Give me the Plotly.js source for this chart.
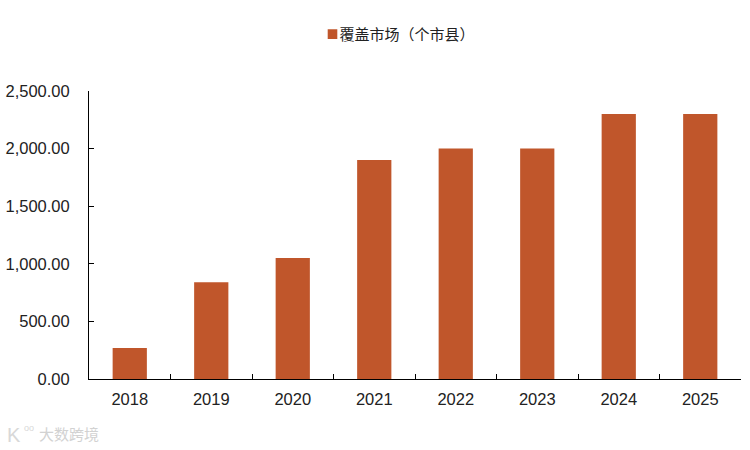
<!DOCTYPE html>
<html><head><meta charset="utf-8">
<script src="https://cdn.plot.ly/plotly-3.0.1.min.js"></script>
<style>html,body{margin:0;padding:0;background:#fff}</style></head>
<body><div id="chart" style="width:750px;height:450px"></div>
<script>
const years = ['2018','2019','2020','2021','2022','2023','2024','2025'];
const coverage = [270,840,1050,1900,2000,2000,2300,2300];
const seriesName = '覆盖市场（个市县）';
const watermark = '大数跨境';
const font = '"Liberation Sans","Noto Sans CJK SC",Arial,sans-serif';
Plotly.newPlot('chart',[{
  type:'bar',x:years,y:coverage,name:seriesName,showlegend:true,
  marker:{color:'#C0562B',line:{width:0}}
}],{
  width:750,height:450,
  margin:{l:89,r:9,t:91,b:71},
  paper_bgcolor:'#fff',plot_bgcolor:'#fff',
  font:{family:font,color:'#222',size:16.5},
  bargap:0.58,
  showlegend:true,
  legend:{orientation:'h',x:(312.5-89)/652,xanchor:'left',y:1.254,yanchor:'top',font:{size:15,color:'#222'},itemwidth:30},
  xaxis:{type:'category',tickson:'boundaries',ticks:'inside',ticklen:5,tickcolor:'#000',tickwidth:1,
    showline:true,linecolor:'#000',linewidth:1,showgrid:false,zeroline:false,ticklabelstandoff:5,
    tickfont:{size:16.5,color:'#222'}},
  yaxis:{range:[0,2500],tickvals:[0,500,1000,1500,2000,2500],
    ticktext:['0.00','500.00','1,000.00','1,500.00','2,000.00','2,500.00'],
    ticks:'inside',ticklen:5,tickcolor:'#000',tickwidth:1,ticklabelstandoff:15,
    showline:true,linecolor:'#000',linewidth:1,showgrid:false,zeroline:false,
    tickfont:{size:16.5,color:'#222'}},
  annotations:[
    {xref:'paper',yref:'paper',x:(37-89)/652,y:-(434-379)/288,xanchor:'left',yanchor:'middle',text:watermark,showarrow:false,font:{size:15,color:'#d2d2d2'}},
    {xref:'paper',yref:'paper',x:(5-89)/652,y:-(435-379)/288,xanchor:'left',yanchor:'middle',text:'K',showarrow:false,font:{size:20,color:'#d8d8d8'}},
    {xref:'paper',yref:'paper',x:(22-89)/652,y:-(428-379)/288,xanchor:'left',yanchor:'middle',text:'oo',showarrow:false,font:{size:9,color:'#d8d8d8'}}
  ]
},{displayModeBar:false}).then(function(){
  // tighten the native legend: smaller swatch set right next to its label
  const t=document.querySelector('.legend .legendtext');
  if(t){t.setAttribute('x',String(parseFloat(t.getAttribute('x'))-13));}
  const p=document.querySelector('.legend .legendpoints path');
  if(p){p.setAttribute('transform',p.getAttribute('transform')+' scale(0.8)');}
});
</script></body></html>
